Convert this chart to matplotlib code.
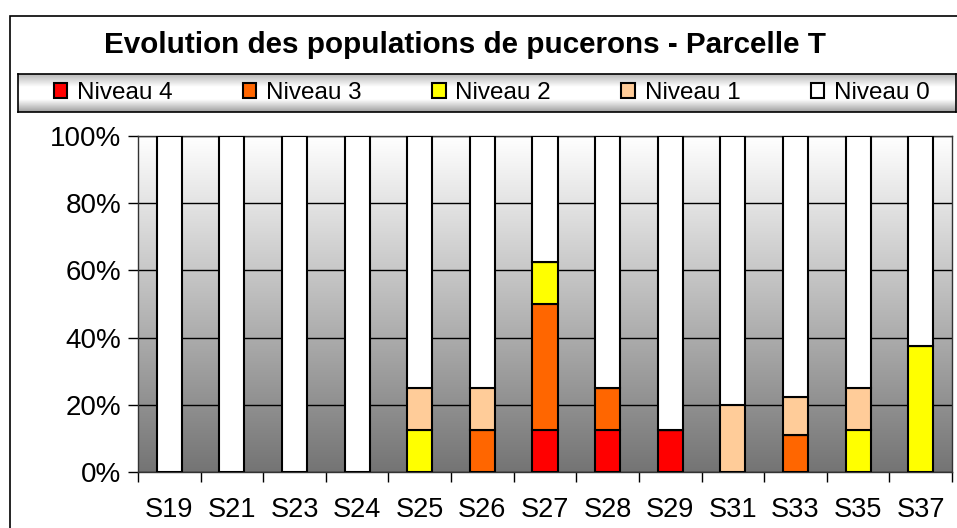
import numpy as np
import matplotlib.pyplot as plt
from matplotlib.colors import LinearSegmentedColormap
from matplotlib.patches import Rectangle

semaines = ['S19', 'S21', 'S23', 'S24', 'S25', 'S26', 'S27', 'S28', 'S29', 'S31', 'S33', 'S35', 'S37']
niveaux = ['Niveau 4', 'Niveau 3', 'Niveau 2', 'Niveau 1', 'Niveau 0']
couleurs = ['#FF0000', '#FF6600', '#FFFF00', '#FFCC99', '#FFFFFF']

niv4 = [0, 0, 0, 0, 0, 0, 12.5, 12.5, 12.5, 0, 0, 0, 0]
niv3 = [0, 0, 0, 0, 0, 12.5, 37.5, 12.5, 0, 0, 11.1, 0, 0]
niv2 = [0, 0, 0, 0, 12.5, 0, 12.5, 0, 0, 0, 0, 12.5, 37.5]
niv1 = [0, 0, 0, 0, 12.5, 12.5, 0, 0, 0, 20, 11.1, 12.5, 0]
niv0 = [100, 100, 100, 100, 75, 75, 37.5, 75, 87.5, 80, 77.8, 75, 62.5]
series = [niv4, niv3, niv2, niv1, niv0]

plt.rcParams['font.family'] = ['Liberation Sans', 'DejaVu Sans']

W, H = 957, 528
fig = plt.figure(figsize=(W / 100, H / 100), dpi=100)

# outer chart frame (runs past the picture edges)
fig.patches.append(Rectangle((10 / W, -0.1), 1.2, 1 - 16 / H + 0.1, transform=fig.transFigure,
                             facecolor='none', edgecolor='black', linewidth=1.2, zorder=5))

fig.text(465 / W, 1 - 45 / H, 'Evolution des populations de pucerons - Parcelle T',
         ha='center', va='center', fontsize=21.3, fontweight='bold')

# legend band with grey-white-grey gradient
lax = fig.add_axes([18 / W, 1 - 112 / H, (956 - 18) / W, 38 / H])
grad_leg = LinearSegmentedColormap.from_list('leg', ['#b8b8b8', '#ffffff', '#ffffff', '#a0a0a0'])
lax.imshow(np.linspace(0, 1, 100).reshape(-1, 1), cmap=grad_leg, aspect='auto', extent=[0, 1, 0, 1])
lax.set_xticks([])
lax.set_yticks([])
for s in lax.spines.values():
    s.set_linewidth(1.2)

ax = fig.add_axes([138 / W, 1 - 472 / H, (952 - 138) / W, (472 - 136) / H])
x = np.arange(len(semaines))
ax.set_xlim(-0.5, len(semaines) - 0.5)
ax.set_ylim(0, 100)

grad = LinearSegmentedColormap.from_list('bg', ['#ffffff', '#747474'])
ax.imshow(np.linspace(0, 1, 256).reshape(-1, 1), cmap=grad, aspect='auto',
          extent=[-0.5, len(semaines) - 0.5, 0, 100], zorder=0)

bas = np.zeros(len(semaines))
handles = []
for vals, lab, c in zip(series, niveaux, couleurs):
    b = ax.bar(x, vals, 0.4, bottom=bas, color=c, edgecolor='black', linewidth=1.5, label=lab, zorder=3)
    handles.append(b)
    bas += np.array(vals)

ax.set_yticks(np.arange(0, 101, 20))
ax.set_yticklabels([f'{v}%' for v in range(0, 101, 20)], fontsize=20)
ax.grid(axis='y', color='black', linewidth=1, zorder=1)
ax.set_axisbelow(True)
ax.tick_params(axis='y', direction='out', length=7, width=1, pad=5)

ax.set_xticks(np.arange(len(semaines) + 1) - 0.5)
ax.set_xticklabels([])
ax.tick_params(axis='x', which='major', direction='out', length=7, width=1)
ax.set_xticks(x, minor=True)
ax.set_xticklabels(semaines, minor=True, fontsize=19.5)
ax.tick_params(axis='x', which='minor', length=0, pad=18)
for s in ax.spines.values():
    s.set_linewidth(1)
    s.set_color('#333333')

lax.legend(handles=handles, labels=niveaux, loc='center', ncol=5, frameon=False,
           fontsize=17.5, handlelength=0.55, handleheight=0.55, handletextpad=0.4,
           columnspacing=2.9, borderaxespad=0, bbox_to_anchor=(0.505, 0.5))

fig.savefig('out.png', dpi=100)
plt.close('all')
